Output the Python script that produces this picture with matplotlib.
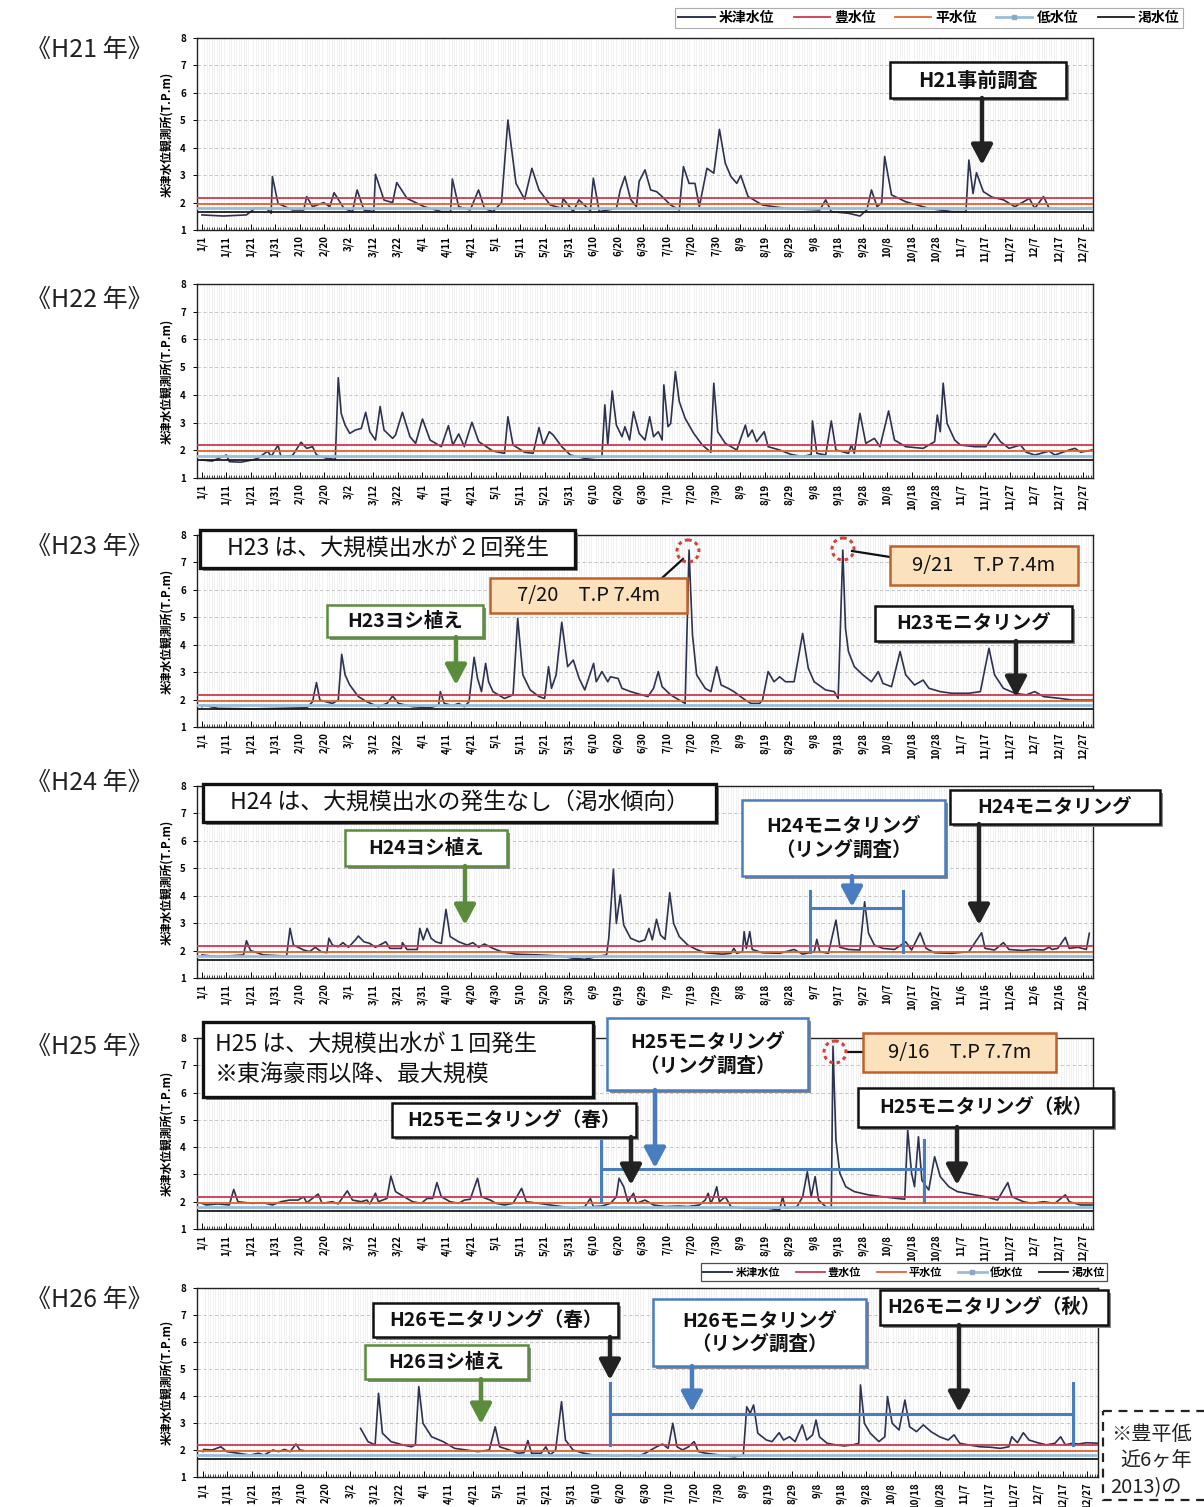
import numpy as np
import matplotlib
matplotlib.use('Agg')
import matplotlib.pyplot as plt
import matplotlib.transforms as mtransforms
from matplotlib.patches import Rectangle, Ellipse, FancyArrowPatch
from matplotlib.lines import Line2D
from matplotlib.font_manager import FontProperties

plt.rcParams['font.family'] = ['Noto Sans CJK JP', 'DejaVu Sans']

# ---------------- data ----------------
years = ['H21', 'H22', 'H23', 'H24', 'H25', 'H26']

ticks_common = ['1/1', '1/11', '1/21', '1/31', '2/10', '2/20', '3/2', '3/12', '3/22', '4/1',
                '4/11', '4/21', '5/1', '5/11', '5/21', '5/31', '6/10', '6/20', '6/30', '7/10',
                '7/20', '7/30', '8/9', '8/19', '8/29', '9/8', '9/18', '9/28', '10/8', '10/18',
                '10/28', '11/7', '11/17', '11/27', '12/7', '12/17', '12/27']
ticks_leap = ['1/1', '1/11', '1/21', '1/31', '2/10', '2/20', '3/1', '3/11', '3/21', '3/31',
              '4/10', '4/20', '4/30', '5/10', '5/20', '5/30', '6/9', '6/19', '6/29', '7/9',
              '7/19', '7/29', '8/8', '8/18', '8/28', '9/7', '9/17', '9/27', '10/7', '10/17',
              '10/27', '11/6', '11/16', '11/26', '12/6', '12/16', '12/26']
tick_days = list(range(0, 361, 10))

# reference water levels (T.P.m)
level_names = ['豊水位', '平水位', '低水位', '渇水位']
level_values = [2.18, 1.96, 1.80, 1.66]

# 米津水位 : day of year (0 = 1/1) and level
days_h21 = [0, 8.8, 18.2, 21.7, 26.4, 28.3, 28.8, 31.1, 37, 41.6, 42.8, 45.2, 49.8, 52.2, 54, 58,
            61.5, 63.4, 66.2, 70.2, 70.9, 74.4, 77.9, 79.6, 83.8, 90.8, 97.8, 101.6, 102.3, 104.9,
            109.6, 113, 115.4, 118.9, 122.4, 125, 128.3, 131.8, 134.8, 137.7, 142.3, 147, 147.5,
            151.7, 154, 158.7, 159.9, 162.3, 169.3, 170.9, 172.8, 175.1, 177.5, 178.6, 181, 183.3,
            185.7, 188, 191.5, 195, 196.7, 199, 201.4, 203.2, 206.3, 209.1, 211.4, 213.8, 216.1,
            218.5, 220.1, 223.1, 229, 238.4, 252.4, 254.8, 257.1, 264.1, 268.8, 271.6, 273.5,
            275.8, 277.7, 278.9, 281.7, 287.5, 296.9, 306.3, 312.1, 313.3, 315, 316.4, 319.2,
            322.7, 327.4, 332.1, 338, 340.2, 343.8, 346.1, 353.1, 363.6]
lv_h21 = [1.55, 1.51, 1.55, 1.79, 1.79, 1.61, 2.95, 1.97, 1.73, 1.73, 2.22, 1.85, 2.0, 1.85, 2.36,
          1.79, 1.67, 2.46, 1.73, 1.67, 3.03, 2.09, 2.0, 2.73, 2.15, 1.85, 1.67, 1.67, 2.86, 1.85,
          1.73, 2.46, 1.79, 1.67, 2.0, 5.01, 2.7, 2.12, 3.25, 2.46, 1.91, 1.79, 2.15, 1.67, 2.1,
          1.7, 2.89, 1.67, 1.79, 2.46, 2.95, 2.12, 1.85, 2.77, 3.19, 2.46, 2.4, 2.22, 1.91, 1.73,
          3.31, 2.7, 2.7, 1.85, 3.25, 3.07, 4.67, 3.43, 2.95, 2.7, 2.99, 2.22, 1.91, 1.79, 1.73,
          2.1, 1.67, 1.61, 1.51, 1.73, 2.46, 1.85, 2.0, 3.68, 2.28, 2.03, 1.79, 1.67, 1.67, 3.55,
          2.33, 3.09, 2.4, 2.2, 2.1, 1.85, 2.15, 1.79, 2.22, 1.79, 1.76, 1.79]

days_h22 = [0, 4.2, 10, 11.2, 15.9, 20.6, 22.9, 26.9, 28.3, 31.1, 32.3, 37, 40.5, 42.8, 45.2, 46.8,
            51, 54.5, 55.7, 56.9, 58.5, 60.4, 62.7, 65.1, 66.9, 68.6, 70.9, 72.8, 74.4, 77.9, 79.1,
            81.9, 85, 87.3, 90.1, 93.2, 97.8, 100.7, 102.5, 104.9, 107.2, 110.3, 113.1, 118.9,
            123.6, 125, 127.1, 131.8, 135.3, 137.7, 139.5, 141.9, 143.5, 147, 150.5, 156.4, 163.4,
            164.6, 165.8, 167.6, 169.3, 171.6, 172.8, 174.7, 176.3, 178.6, 181, 182.9, 184.5,
            186.4, 188, 188.7, 190.4, 191.5, 193.4, 195, 197.4, 200.9, 204.4, 207.9, 209.1, 210.7,
            213.8, 218.5, 222, 223.1, 224.8, 226.6, 229.7, 231.3, 236, 240.7, 245.4, 248.9, 249.4,
            251.2, 254.8, 257.1, 259, 264.1, 265.3, 266.5, 268.8, 271.2, 274.7, 277, 280.5, 282.9,
            287.5, 294.6, 299.3, 300.4, 301.6, 302.8, 304.4, 307.5, 309.8, 315.7, 320.3, 323.8,
            326.2, 329.7, 334.4, 336.7, 340.2, 346.1, 348.4, 354.3, 356.6, 359, 363.6]
lv_h22 = [1.65, 1.61, 1.83, 1.59, 1.57, 1.65, 1.71, 1.97, 1.77, 2.19, 1.77, 1.81, 2.29, 2.07, 2.13,
          1.83, 1.71, 1.67, 4.62, 3.33, 2.91, 2.61, 2.73, 2.79, 3.37, 2.67, 2.37, 3.58, 2.73, 2.43,
          2.55, 3.37, 2.49, 2.25, 3.13, 2.37, 2.13, 2.89, 2.19, 2.59, 2.13, 3.01, 2.31, 1.97, 1.89,
          3.21, 2.19, 1.93, 1.89, 2.82, 2.19, 2.67, 2.55, 2.13, 1.83, 1.71, 1.77, 3.64, 2.19, 4.14,
          2.91, 2.49, 2.85, 2.37, 3.39, 2.61, 2.37, 3.21, 2.49, 2.67, 2.37, 4.36, 2.85, 2.97, 4.84,
          3.76, 3.15, 2.61, 2.19, 1.93, 4.42, 2.67, 2.25, 2.01, 2.91, 2.49, 2.73, 2.31, 2.67, 2.13,
          2.01, 1.85, 1.77, 1.85, 3.06, 1.89, 1.83, 3.06, 2.01, 1.89, 2.19, 1.89, 3.33, 2.25, 2.43,
          2.13, 3.42, 2.37, 2.13, 2.07, 2.31, 3.27, 2.67, 4.42, 2.97, 2.37, 2.19, 2.13, 2.13, 2.61,
          2.31, 2.07, 2.19, 1.93, 1.83, 1.97, 1.83, 2.01, 2.07, 1.93, 2.01]

days_h23 = [0, 0.7, 6.5, 20.6, 32.3, 42.8, 45.2, 46.8, 48.2, 53.3, 55.7, 57.1, 58.5, 60.4, 63.9,
            67.4, 72.1, 75.6, 77.9, 80.3, 86.1, 93.2, 96.7, 97.4, 99, 102.5, 104.9, 107.2, 109.1,
            111.2, 112.6, 114.2, 115.9, 117.1, 118.9, 123.6, 127.1, 129, 131.1, 134.1, 137.7, 140,
            141.6, 142.8, 144.7, 147, 149.4, 151.7, 154.1, 156.4, 160, 161.1, 163.4, 165.8, 166.9,
            170, 171.6, 175.1, 179.8, 182.2, 184.5, 186.4, 188, 191.5, 195, 197.4, 199, 200.4,
            202.1, 205.6, 207.9, 210.3, 212.1, 215, 217.3, 222, 224.3, 227.8, 229, 231.3, 233.7,
            236, 238.4, 241.9, 245.4, 247.7, 250.1, 254.8, 258.3, 259.9, 261.8, 262.9, 264.1,
            266.5, 270, 273.5, 276.3, 278.2, 281.7, 285.2, 287.5, 291.1, 294.6, 297, 301.6, 306.3,
            313.3, 318, 321.5, 323.8, 327.4, 332.1, 336.7, 340.2, 343.8, 350.8, 355.5, 363.6]
lv_h23 = [1.74, 1.80, 1.68, 1.66, 1.68, 1.70, 1.92, 2.62, 1.98, 1.86, 1.98, 3.65, 2.90, 2.53, 2.11,
          1.92, 1.74, 1.86, 2.13, 1.86, 1.74, 1.70, 1.80, 2.29, 1.86, 1.78, 1.86, 1.74, 1.92, 3.54,
          2.77, 2.29, 3.32, 2.65, 2.29, 2.04, 2.17, 4.96, 2.90, 2.35, 2.11, 2.04, 3.20, 2.41, 2.90,
          4.82, 3.20, 3.44, 2.77, 2.35, 3.32, 2.65, 3.02, 2.65, 2.83, 2.77, 2.41, 2.29, 2.17, 2.11,
          2.41, 3.02, 2.47, 2.17, 1.98, 1.86, 7.45, 4.35, 2.90, 2.41, 2.29, 3.20, 2.53, 2.41, 2.29,
          1.98, 1.86, 1.86, 1.98, 3.02, 2.65, 2.83, 2.65, 2.65, 4.41, 3.14, 2.65, 2.35, 2.29, 2.04,
          7.45, 4.60, 3.75, 3.20, 2.90, 2.65, 3.02, 2.59, 2.47, 3.75, 2.90, 2.53, 2.71, 2.41, 2.29,
          2.23, 2.23, 2.29, 3.87, 2.90, 2.41, 2.23, 2.17, 2.29, 2.11, 2.04, 1.98, 1.98]

days_h24 = [0, 6.5, 17, 18.2, 19.9, 25.2, 34.6, 36, 37.4, 41.6, 44, 46.3, 48.7, 51, 51.9, 53.3,
            55.7, 57.6, 59.9, 62.7, 63.9, 66.2, 68.6, 70.9, 75.1, 76.8, 81.5, 81.9, 83.8, 88, 89,
            90.4, 92, 93.6, 95.5, 97.8, 99.7, 101.4, 104.9, 108.4, 110.7, 113.1, 115.4, 118.9,
            122.4, 128.3, 137.7, 147, 151.7, 156.4, 161.1, 165.3, 166.2, 168.1, 169.3, 170.9,
            172.3, 175.1, 178.6, 181, 182.6, 184, 185.7, 187.3, 189.2, 191.1, 192.7, 195, 198.5,
            202, 205.6, 212.6, 216.1, 217.3, 218.5, 220.8, 221.5, 222.4, 223.8, 224.8, 229, 236,
            241.9, 245.4, 250.1, 251.2, 252.4, 255.9, 259, 260.6, 264.1, 268.8, 270.7, 272.3,
            274.7, 278.2, 282.9, 287.5, 289.9, 293.4, 295.8, 299.3, 306.3, 313.3, 318.5, 319.9,
            323.8, 327.4, 329.7, 335.6, 339.1, 343.8, 346.1, 347.3, 349.6, 352.7, 354.3, 357.8,
            361.3, 362.5]
lv_h24 = [1.84, 1.78, 1.84, 2.36, 2.0, 1.84, 1.80, 2.81, 2.20, 2.02, 1.96, 2.12, 1.96, 1.92, 2.45,
          2.20, 2.14, 2.29, 2.12, 2.39, 2.53, 2.32, 2.26, 2.12, 2.32, 2.08, 2.08, 2.29, 2.04, 2.04,
          2.81, 2.39, 2.81, 2.45, 2.32, 2.26, 3.50, 2.51, 2.32, 2.20, 2.29, 2.12, 2.24, 2.08, 1.96,
          1.87, 1.84, 1.80, 1.72, 1.68, 1.78, 1.84, 2.45, 4.96, 2.99, 4.03, 2.93, 2.45, 2.32, 2.39,
          2.81, 2.39, 3.14, 2.57, 2.41, 4.11, 2.99, 2.51, 2.20, 2.04, 1.92, 1.87, 1.90, 2.08, 1.90,
          1.96, 2.69, 2.08, 2.69, 2.04, 1.92, 1.90, 2.04, 1.87, 1.96, 2.41, 1.96, 1.90, 3.11, 2.12,
          2.04, 2.02, 3.78, 2.63, 2.20, 2.08, 2.04, 2.32, 2.02, 2.65, 2.08, 1.92, 1.90, 1.96, 2.65,
          2.08, 2.02, 2.29, 2.04, 2.0, 2.04, 2.02, 2.12, 2.04, 2.08, 2.48, 2.08, 2.12, 2.04, 2.63]

days_h25 = [0, 1.8, 6.5, 11.2, 13, 14.7, 20.6, 25.2, 28.8, 32.3, 35.8, 39.3, 41.6, 42.8, 47.5, 49.1,
            53.3, 55.7, 59.4, 61.5, 65.1, 67.4, 68.6, 70.9, 72.1, 75.6, 77.2, 79.1, 82.6, 86.1, 89.6,
            92, 94.3, 96, 97.8, 101.4, 104.9, 107.2, 109.6, 112.6, 114.2, 117.8, 120.1, 123.6, 127.1,
            130.6, 132.5, 137.7, 142.3, 147, 151.7, 156.4, 158.7, 159.9, 163.4, 166.9, 169.3, 170.4,
            172.3, 174, 176.3, 177.5, 181, 184.5, 189.2, 195, 198.5, 203.2, 205.6, 206.8, 207.9,
            209.1, 210.3, 211.4, 213.8, 216.1, 222, 231.3, 236, 237.2, 238.4, 243.1, 245.4, 247.3,
            248.9, 250.5, 251.9, 254.8, 257.1, 257.8, 259, 260.6, 263, 266.5, 272.3, 278.2, 284,
            287.1, 288.3, 289.9, 291.1, 292.7, 294.1, 296.9, 299.3, 301.6, 305.1, 308.6, 312.1,
            315.7, 320.3, 325, 329.2, 330.9, 335.6, 339.1, 343.8, 348.4, 352.7, 354.3, 359, 363.6]
lv_h25 = [1.94, 1.88, 1.92, 1.88, 2.45, 2.0, 1.94, 1.96, 1.88, 2.0, 2.06, 2.06, 2.18, 1.96, 2.28,
          1.94, 2.0, 1.92, 2.40, 2.06, 2.0, 2.06, 1.92, 2.31, 2.0, 2.12, 2.94, 2.37, 2.18, 2.0, 1.94,
          2.12, 2.12, 2.70, 2.18, 2.0, 1.94, 2.06, 2.09, 2.86, 2.18, 2.06, 1.94, 1.88, 1.94, 2.49,
          2.0, 1.94, 1.88, 1.82, 1.76, 1.82, 2.12, 1.82, 1.84, 1.94, 2.18, 2.86, 2.55, 2.0, 2.31,
          1.94, 2.06, 1.88, 1.82, 1.84, 1.82, 1.88, 2.06, 2.31, 1.94, 2.18, 2.55, 2.0, 2.18, 1.82,
          1.76, 1.76, 1.70, 2.18, 1.76, 1.82, 2.18, 3.10, 2.18, 2.92, 2.06, 1.82, 1.76, 7.7, 4.26,
          3.04, 2.55, 2.37, 2.25, 2.18, 2.12, 2.09, 4.63, 3.04, 2.55, 4.38, 2.79, 2.43, 3.65, 2.92,
          2.55, 2.37, 2.31, 2.25, 2.18, 2.06, 2.70, 2.18, 2.0, 1.94, 2.0, 1.94, 2.25, 2.0, 1.88, 1.88]

days_h26 = [0, 0.3, 3.8, 7.3, 9.7, 14.4, 19.1, 22.6, 24.9, 28.5, 30.8, 33.2, 35.5, 37.9, 39.5, 40.9,
            41.5, 64.2, 67.2, 70.1, 71.5, 73.1, 76.6, 81.3, 84.9, 86.5, 87.9, 89.6, 93.1, 97.8,
            102.5, 107.2, 111.9, 116.6, 119, 120.8, 124.8, 128.3, 130.7, 132.3, 133.8, 137.7, 139.6,
            141.3, 143.6, 146, 147.6, 150.7, 154.2, 158.9, 163.6, 168.3, 173, 177.7, 180, 182.4,
            184.7, 187.1, 189.4, 191.3, 193, 195.3, 197.7, 200, 201.7, 204.7, 208.2, 212.9, 216.5,
            220, 221.4, 222.8, 224.2, 225.9, 229.4, 231.7, 234.6, 236.4, 238.8, 241.1, 244, 245.8,
            248.2, 249.6, 251, 254.1, 257.6, 261.1, 264.6, 267, 267.7, 269.3, 271.7, 275.2, 277.6,
            278.7, 280.6, 283.4, 285.8, 287.7, 290.5, 293.3, 296.4, 299.9, 303.4, 305.8, 308.1,
            311.6, 316.3, 321, 324.6, 328.1, 329.3, 331.6, 334, 336.3, 339.8, 343.4, 346.9, 349.2,
            351.1, 354, 356.3, 359.8, 364.5]
lv_h26 = [1.94, 2.02, 2.0, 2.12, 1.94, 1.88, 1.81, 1.88, 1.81, 2.0, 1.94, 2.02, 1.94, 2.22, 2.0, 1.98,
          np.nan, 2.80, 2.31, 2.19, 4.10, 2.62, 2.31, 2.19, 2.12, 2.19, 4.35, 2.99, 2.49, 2.31, 2.06,
          2.0, 1.94, 2.0, 2.86, 2.12, 2.0, 1.88, 1.90, 2.35, 1.88, 1.88, 2.12, 1.81, 2.0, 3.79, 2.37,
          2.0, 1.90, 1.81, 1.81, 1.78, 1.81, 1.78, 1.88, 2.0, 2.12, 2.22, 2.06, 2.99, 2.12, 2.0,
          2.12, 2.31, 1.94, 1.88, 1.84, 1.78, 1.75, 1.81, 3.60, 3.36, 3.67, 2.62, 2.37, 2.31, 2.64,
          2.37, 2.49, 2.31, 2.93, 2.37, 2.56, 3.11, 2.49, 2.25, 2.19, 2.15, 2.19, 2.25, 4.41, 2.99,
          2.62, 2.31, 2.49, 3.98, 2.99, 2.74, 3.85, 2.86, 2.68, 2.93, 2.68, 2.49, 2.37, 2.56, 2.25,
          2.19, 2.12, 2.10, 2.06, 2.12, 2.49, 2.27, 2.64, 2.37, 2.27, 2.19, 2.25, 2.49, 2.19, 2.25,
          2.22, 2.27, 2.25]

series_days = [days_h21, days_h22, days_h23, days_h24, days_h25, days_h26]
series_lv = [lv_h21, lv_h22, lv_h23, lv_h24, lv_h25, lv_h26]
series_ticks = [ticks_common, ticks_common, ticks_common, ticks_leap, ticks_common, ticks_common]

# ---------------- style ----------------
W, H = 1204, 1507
C_MAIN = '#2c3250'
C_LEVELS = ['#cc3a50', '#e0652e', '#9cbdd8', '#1a1a1a']
LW_LEVELS = [1.3, 1.3, 2.0, 1.3]
C_BLUE = '#4a7cc0'
C_GREEN = '#5b8c3c'
C_ORANGE_EC = '#c0602a'
C_ORANGE_FC = '#fbe2bd'

fig = plt.figure(figsize=(W / 100, H / 100), dpi=100)
fig.patch.set_facecolor('white')
pxT = mtransforms.Affine2D().scale(1 / W, -1 / H).translate(0, 1) + fig.transFigure

# panel frames in reference pixels: top, bottom, left, right
frames = [(38, 230, 197, 1093), (284, 478, 197, 1093), (535, 727, 197, 1093),
          (786, 978, 197, 1093), (1038, 1229, 197, 1093), (1288, 1477, 197, 1098)]
xlims = [(-2.0, 363.7)] * 5 + [(-2.4, 364.4)]
year_label_y = [50, 300, 547, 783, 1047, 1300]

for i, yr in enumerate(years):
    t, b, l, r = frames[i]
    ax = fig.add_axes([l / W, 1 - b / H, (r - l) / W, (b - t) / H])
    ax.plot(series_days[i], series_lv[i], color=C_MAIN, lw=1.2, zorder=3)
    for val, col, lw in zip(level_values, C_LEVELS, LW_LEVELS):
        ax.axhline(val, color=col, lw=lw, zorder=4)
    ax.set_xlim(*xlims[i])
    ax.set_ylim(1, 8)
    ax.set_yticks(range(1, 9))
    ax.set_xticks(tick_days)
    ax.set_xticklabels(series_ticks[i], rotation=90, fontsize=7, fontweight='bold')
    ax.set_xticks(np.arange(0, 365, 1), minor=True)
    ax.tick_params(axis='x', which='major', direction='in', length=4, width=0.7, pad=4)
    ax.tick_params(axis='x', which='minor', direction='in', length=2.5, width=0.5)
    ax.tick_params(axis='y', direction='out', length=3, width=0.7, pad=5, labelsize=7)
    for lab in ax.get_yticklabels():
        lab.set_fontweight('bold')
    ax.grid(which='minor', axis='x', color='#ececec', lw=0.5, zorder=0)
    ax.grid(which='major', axis='y', color='#bdbdbd', lw=0.6, ls=(0, (4, 3)), zorder=0)
    ax.set_axisbelow(True)
    for sp in ax.spines.values():
        sp.set_linewidth(1.0)
        sp.set_color('#222222')
    ax.set_ylabel('米津水位観測所(T.P.m)', fontsize=8.5, fontweight='bold', labelpad=5)
    fig.text(26, year_label_y[i], '《' + yr + ' 年》', transform=pxT, fontsize=18,
             va='center', ha='left', color='#222222')


# ---------------- annotation helpers (reference pixel coordinates) ----------------
def box(x0, y0, x1, y1, text, ec='#111111', fc='white', fs=14, lw=1.8, ha='center',
        weight='bold', shadow=True, tx=None, ls=1.25):
    if shadow:
        fig.add_artist(Rectangle((x0 + 3, y0 + 3), x1 - x0, y1 - y0, transform=pxT,
                                 facecolor='#8a8a8a', edgecolor='none', zorder=19))
    fig.add_artist(Rectangle((x0, y0), x1 - x0, y1 - y0, transform=pxT,
                             facecolor=fc, edgecolor=ec, lw=lw, zorder=20))
    x = (x0 + x1) / 2 if ha == 'center' else (tx if tx is not None else x0 + 12)
    fig.text(x, (y0 + y1) / 2, text, transform=pxT, fontsize=fs, fontweight=weight,
             ha=ha, va='center', color='#111111', zorder=21, linespacing=ls)


def arrow(x, y0, y1, color, lw=3.2):
    fig.add_artist(FancyArrowPatch((x, y0), (x, y1), transform=pxT,
                                   arrowstyle='-|>,head_length=0.75,head_width=0.4',
                                   mutation_scale=16, color=color, lw=lw,
                                   shrinkA=0, shrinkB=0, zorder=22))


def bracket(x0, x1, yh, ya, yb, color=C_BLUE, lw=2.2):
    fig.add_artist(Line2D([x0, x1], [yh, yh], transform=pxT, color=color, lw=lw, zorder=18))
    fig.add_artist(Line2D([x0, x0], [ya, yb], transform=pxT, color=color, lw=lw, zorder=18))
    fig.add_artist(Line2D([x1, x1], [ya, yb], transform=pxT, color=color, lw=lw, zorder=18))


def circle(x, y, r=11):
    fig.add_artist(Ellipse((x, y), 2 * r, 2 * r, transform=pxT, fill=False,
                           ec='#d2453a', lw=2.2, ls=(0, (1.2, 1.2)), zorder=22))


def link(xa, ya, xb, yb):
    fig.add_artist(Line2D([xa, xb], [ya, yb], transform=pxT, color='#111111', lw=1.6, zorder=19))


# H21
box(890, 62, 1066, 98, 'H21事前調査', fs=14.5)
arrow(982, 98, 165, '#222222')

# H23
box(200, 530, 575, 568, 'H23 は、大規模出水が２回発生', fs=16.5, lw=2.4, weight='normal')
link(662, 578, 683, 559)
circle(688, 551)
box(490, 578, 687, 613, '7/20　T.P 7.4m', ec=C_ORANGE_EC, fc=C_ORANGE_FC, fs=14.5,
    weight='normal', shadow=False)
link(890, 557, 852, 551)
circle(843, 549)
box(890, 546, 1078, 585, '9/21　T.P 7.4m', ec=C_ORANGE_EC, fc=C_ORANGE_FC, fs=14.5,
    weight='normal', shadow=False)
box(327, 605, 483, 637, 'H23ヨシ植え', ec=C_GREEN, fs=14)
arrow(456, 637, 685, C_GREEN)
box(875, 606, 1072, 641, 'H23モニタリング', fs=14)
arrow(1016, 641, 697, '#222222')

# H24
box(203, 784, 716, 822, 'H24 は、大規模出水の発生なし（渇水傾向）', fs=16.5, lw=2.4, weight='normal')
box(345, 830, 507, 866, 'H24ヨシ植え', ec=C_GREEN, fs=14)
arrow(465, 866, 925, C_GREEN)
bracket(810, 903, 908, 891, 952)
box(742, 800, 945, 876, 'H24モニタリング\n（リング調査）', ec=C_BLUE, fs=14)
arrow(852, 876, 907, C_BLUE)
box(950, 790, 1160, 824, 'H24モニタリング', fs=14)
arrow(979, 824, 925, '#222222')

# H25
box(203, 1022, 593, 1097, 'H25 は、大規模出水が１回発生\n※東海豪雨以降、最大規模', fs=16.5, lw=2.4,
    weight='normal', ha='left', tx=215, ls=1.35)
bracket(601, 924, 1169, 1140, 1202)
box(607, 1018, 808, 1090, 'H25モニタリング\n（リング調査）', ec=C_BLUE, fs=14)
arrow(655, 1090, 1168, C_BLUE)
link(863, 1052, 846, 1052)
circle(835, 1052)
box(863, 1033, 1056, 1072, '9/16　T.P 7.7m', ec=C_ORANGE_EC, fc=C_ORANGE_FC, fs=14.5,
    weight='normal', shadow=False)
box(392, 1103, 636, 1137, 'H25モニタリング（春）', fs=14)
arrow(631, 1137, 1185, '#222222')
box(858, 1088, 1113, 1127, 'H25モニタリング（秋）', fs=14)
arrow(957, 1127, 1185, '#222222')

# H26
bracket(610, 1073, 1414, 1383, 1445)
box(373, 1303, 618, 1337, 'H26モニタリング（春）', fs=14)
arrow(610, 1337, 1380, '#222222')
box(365, 1345, 528, 1379, 'H26ヨシ植え', ec=C_GREEN, fs=14)
arrow(481, 1379, 1424, C_GREEN)
box(653, 1299, 866, 1366, 'H26モニタリング\n（リング調査）', ec=C_BLUE, fs=14)
arrow(692, 1366, 1412, C_BLUE)
box(880, 1290, 1108, 1325, 'H26モニタリング（秋）', fs=14)
arrow(959, 1325, 1412, '#222222')

# note box (cut off at the right edge in the reference; only the visible part is written)
fig.add_artist(Rectangle((1103, 1411), 130, 89, transform=pxT, fill=False, ec='#222222',
                         lw=1.6, ls=(0, (4, 3)), zorder=20))
fig.text(1111, 1434, '※豊平低', transform=pxT, fontsize=14.5, va='center', ha='left',
         color='#222222')
fig.text(1120, 1461, '近6ヶ年', transform=pxT, fontsize=14.5, va='center', ha='left',
         color='#222222')
fig.text(1110, 1488, '2013)の', transform=pxT, fontsize=14.5, va='center', ha='left',
         color='#222222')

# ---------------- legends ----------------
leg_names = ['米津水位'] + level_names
handles = [Line2D([], [], color=C_MAIN, lw=1.4)]
for j, (col, lw) in enumerate(zip(C_LEVELS, LW_LEVELS)):
    if j == 2:
        handles.append(Line2D([], [], color=col, lw=lw, marker='s', markersize=3,
                              markerfacecolor='#8aa8c4', markeredgecolor='#8aa8c4'))
    else:
        handles.append(Line2D([], [], color=col, lw=lw))

fp1 = FontProperties(family=['Noto Sans CJK JP', 'DejaVu Sans'], weight='bold', size=10)
leg1 = fig.legend(handles, leg_names, loc='center', bbox_to_anchor=(929 / W, 1 - 18 / H),
                  ncol=5, prop=fp1, frameon=True, fancybox=False, handlelength=2.6,
                  handletextpad=0.3, columnspacing=1.4, borderpad=0.25, numpoints=1)
leg1.get_frame().set_edgecolor('#9a9a9a')
leg1.get_frame().set_linewidth(0.8)

fp2 = FontProperties(family=['Noto Sans CJK JP', 'DejaVu Sans'], weight='bold', size=8)
leg2 = fig.legend(handles, leg_names, loc='center', bbox_to_anchor=(904 / W, 1 - 1272 / H),
                  ncol=5, prop=fp2, frameon=True, fancybox=False, handlelength=2.6,
                  handletextpad=0.3, columnspacing=1.4, borderpad=0.2, numpoints=1)
leg2.get_frame().set_edgecolor('#222222')
leg2.get_frame().set_linewidth(0.9)

fig.savefig('out.png', dpi=100)
